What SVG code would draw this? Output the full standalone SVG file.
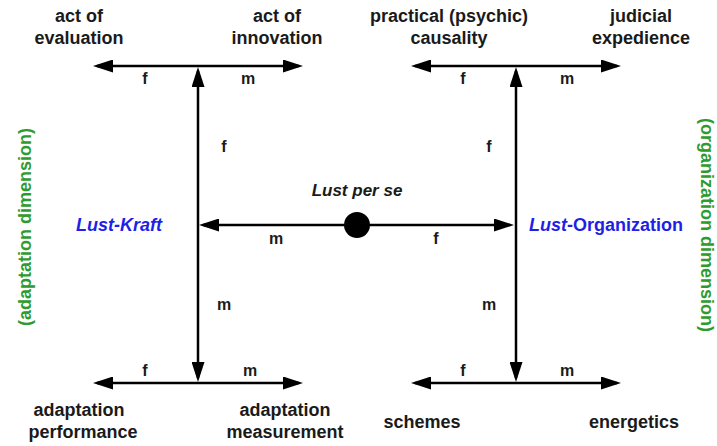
<svg xmlns="http://www.w3.org/2000/svg" width="717" height="446" viewBox="0 0 717 446">
<style>
text{font-family:"Liberation Sans",Arial,sans-serif;font-weight:bold;fill:#1a1a1a}
.t{font-size:18px;text-anchor:middle}
.l{font-size:16px;text-anchor:middle}
.b{fill:#1f1fe6;font-size:18px}
.g{fill:#2e9b2e;font-size:18px;text-anchor:middle}
.c line{stroke:#000;stroke-width:2.5;marker-start:url(#ah);marker-end:url(#ah)}
</style>
<defs>
<marker id="ah" viewBox="0 0 20 13" refX="16" refY="6.5" markerWidth="20" markerHeight="13" markerUnits="userSpaceOnUse" orient="auto-start-reverse">
<path d="M0,0 L20,6.5 L0,13 z" fill="#000"/>
</marker>
</defs>
<rect width="717" height="446" fill="#fff"/>
<g id="connectors" class="c">
<line x1="97" y1="66" x2="299" y2="66"/>
<line x1="415" y1="66" x2="617" y2="66"/>
<line x1="97" y1="383" x2="299" y2="383"/>
<line x1="415" y1="383" x2="617" y2="383"/>
<line x1="198" y1="71" x2="198" y2="378"/>
<line x1="516" y1="71" x2="516" y2="378"/>
<line x1="357" y1="225" x2="203" y2="225" style="marker-start:none"/>
<line x1="357" y1="225" x2="510" y2="225" style="marker-start:none"/>
</g>
<g id="labels">
<text class="l" x="145" y="84">f</text>
<text class="l" x="248" y="84">m</text>
<text class="l" x="463" y="84">f</text>
<text class="l" x="567" y="84">m</text>
<text class="l" x="145" y="376">f</text>
<text class="l" x="250" y="376">m</text>
<text class="l" x="463" y="376">f</text>
<text class="l" x="567" y="376">m</text>
<text class="l" x="224" y="152">f</text>
<text class="l" x="224" y="310">m</text>
<text class="l" x="489" y="152">f</text>
<text class="l" x="489" y="310">m</text>
<text class="l" x="276" y="244">m</text>
<text class="l" x="436" y="244">f</text>
</g>
<g id="lust-per-se">
<circle cx="357" cy="225" r="13" fill="#000"/>
<text class="l" x="357" y="196" style="font-size:17px;font-style:italic">Lust per se</text>
</g>
<g id="lust-kraft"><text class="b" x="119" y="231" text-anchor="middle" font-style="italic">Lust-Kraft</text></g>
<g id="lust-organization"><text class="b" x="529" y="231"><tspan font-style="italic">Lust</tspan>-Organization</text></g>
<g id="act-of-evaluation"><text class="t" x="79" y="22">act of</text><text class="t" x="79" y="44">evaluation</text></g>
<g id="act-of-innovation"><text class="t" x="277" y="22">act of</text><text class="t" x="277" y="44">innovation</text></g>
<g id="practical-causality"><text class="t" x="449" y="22">practical (psychic)</text><text class="t" x="449" y="44">causality</text></g>
<g id="judicial-expedience"><text class="t" x="641" y="22">judicial</text><text class="t" x="641" y="44">expedience</text></g>
<g id="adaptation-performance"><text class="t" x="79" y="416">adaptation</text><text class="t" x="83" y="438">performance</text></g>
<g id="adaptation-measurement"><text class="t" x="285" y="416">adaptation</text><text class="t" x="285" y="438">measurement</text></g>
<g id="schemes"><text class="t" x="422" y="428">schemes</text></g>
<g id="energetics"><text class="t" x="634" y="428">energetics</text></g>
<g id="adaptation-dimension"><text class="g" transform="translate(31,227) rotate(-90)">(adaptation dimension)</text></g>
<g id="organization-dimension"><text class="g" transform="translate(701,225) rotate(90)">(organization dimension)</text></g>
</svg>
